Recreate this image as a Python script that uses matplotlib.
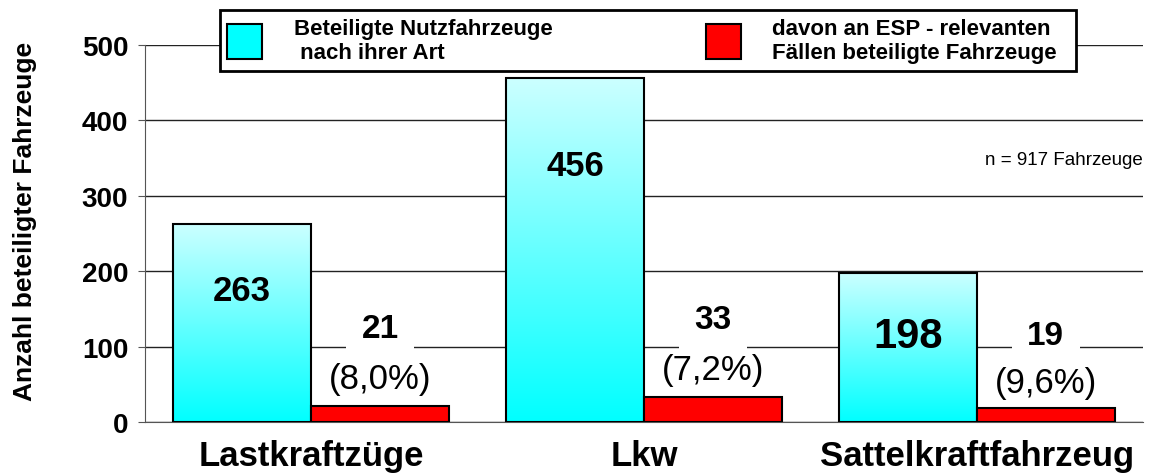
import matplotlib.pyplot as plt
import numpy as np
from matplotlib.colors import LinearSegmentedColormap
from matplotlib.patches import Patch

plt.rcParams['font.family'] = ['Liberation Sans', 'DejaVu Sans']

categories = ['Lastkraftzüge', 'Lkw', 'Sattelkraftfahrzeug']
total = [263, 456, 198]
esp = [21, 33, 19]
esp_pct = ['(8,0%)', '(7,2%)', '(9,6%)']
legend_labels = ['Beteiligte Nutzfahrzeuge\n nach ihrer Art',
                 'davon an ESP - relevanten\nFällen beteiligte Fahrzeuge  ']

fig = plt.figure(figsize=(11.5, 4.77), dpi=100)
ax = fig.add_axes([0.126, 0.1132, 0.868, 0.7904])

x = np.arange(len(categories))
w = 0.415

cyan_bars = ax.bar(x - w / 2, total, w, color='none', edgecolor='black', linewidth=1.5, zorder=3)
red_bars = ax.bar(x + w / 2, esp, w, color='#ff0000', edgecolor='black', linewidth=1.5, zorder=3)

# gradient fill for the cyan bars (light at top, saturated at bottom)
cmap = LinearSegmentedColormap.from_list('cy', ['#00ffff', '#ccffff'])
grad = np.linspace(0, 1, 256).reshape(-1, 1)
for b in cyan_bars:
    x0, y0 = b.get_x(), b.get_y()
    im = ax.imshow(grad, extent=[x0, x0 + b.get_width(), y0, y0 + b.get_height()],
                   origin='lower', aspect='auto', cmap=cmap, zorder=2)
    im.set_clip_path(b)

ax.set_xlim(-0.5, 2.5)
ax.set_ylim(0, 500)
ax.set_yticks([0, 100, 200, 300, 400, 500])
ax.yaxis.grid(True, color='#222222', linewidth=1)
ax.set_axisbelow(True)
for s in ['top', 'right']:
    ax.spines[s].set_visible(False)
ax.spines['left'].set_color('#555555')
ax.spines['bottom'].set_color('#555555')
ax.tick_params(axis='y', length=5, color='#555555', labelsize=20, pad=7)
ax.tick_params(axis='x', length=0, labelsize=25, pad=12)
for t in ax.get_yticklabels():
    t.set_fontweight('bold')
ax.set_xticks(x)
ax.set_xticklabels(categories, fontweight='bold')
fig.text(25 / 1150, 0.535, 'Anzahl beteiligter Fahrzeuge', rotation=90,
         ha='center', va='center', fontsize=19, fontweight='bold')

# labels inside cyan bars
label_y = [174, 340, 114]
label_size = [25, 25, 30]
for i in range(len(categories)):
    ax.text(x[i] - w / 2, label_y[i], str(total[i]), ha='center', va='center',
            fontsize=label_size[i], fontweight='bold', zorder=5)

# labels above red bars
num_y = [124, 136, 115]
pct_y = [58, 70, 53]
for i in range(len(categories)):
    ax.text(x[i] + w / 2, num_y[i], str(esp[i]), ha='center', va='center',
            fontsize=24, fontweight='bold', zorder=5,
            bbox=dict(facecolor='white', edgecolor='none', pad=11))
    ax.text(x[i] + w / 2, pct_y[i], esp_pct[i], ha='center', va='center',
            fontsize=25, zorder=6)

ax.text(2.5, 348, 'n = 917 Fahrzeuge', ha='right', va='center', fontsize=13.5)

handles = [Patch(facecolor='#00ffff', edgecolor='black', linewidth=1.5),
           Patch(facecolor='#ff0000', edgecolor='black', linewidth=1.5)]
leg = ax.legend(handles, legend_labels, ncol=2, loc='center',
                bbox_to_anchor=(648 / 1150, 1 - 41.5 / 477), bbox_transform=fig.transFigure,
                frameon=True, fancybox=False, edgecolor='black', framealpha=1,
                prop={'weight': 'bold', 'size': 16}, handlelength=1.58, handleheight=2.0,
                columnspacing=6.9, handletextpad=1.4, borderpad=0.35, borderaxespad=0,
                labelspacing=0.2)
leg.get_frame().set_linewidth(2)
for t in leg.get_texts():
    t.set_multialignment('left')
leg.set_zorder(10)

fig.savefig('out.png', dpi=100)
